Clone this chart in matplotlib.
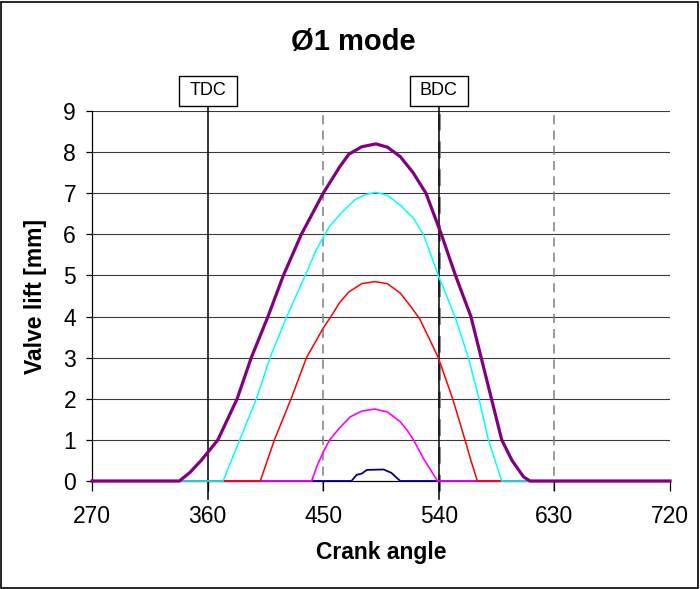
import matplotlib
matplotlib.use("Agg")
import matplotlib.pyplot as plt
from matplotlib.patches import Rectangle

plt.rcParams['font.family'] = ['Liberation Sans', 'DejaVu Sans']

# valve lift curves (crank angle in deg, lift in mm)
purple_x = [270, 338, 346, 355, 368, 383, 394, 407, 419, 433, 450, 463, 470, 480, 491,
            500, 510, 520, 530, 542, 553, 565, 573, 581, 589, 597, 606, 611, 720]
purple_y = [0, 0, 0.2, 0.5, 1, 2, 3, 4, 5, 6, 7, 7.65, 7.95, 8.13, 8.2,
            8.12, 7.89, 7.5, 7.0, 6.0, 5.0, 4.0, 3.0, 2.0, 1.0, 0.5, 0.1, 0, 0]

cyan_x = [270, 372, 385, 398, 408.6, 421.6, 436, 445, 455, 465, 475, 483, 491,
          500, 510, 520, 528, 539.6, 552.6, 563, 571.3, 578.6, 589, 720]
cyan_y = [0, 0, 1, 2, 3, 4, 5, 5.65, 6.2, 6.55, 6.85, 6.97, 7.02,
          6.95, 6.71, 6.4, 6.0, 5.0, 4.0, 3.0, 2.0, 1.0, 0, 0]

red_x = [270, 401, 412, 425, 437, 450, 456, 463, 470, 480, 490,
         500, 510, 518, 525, 532, 539.6, 550.8, 560.4, 565, 570, 720]
red_y = [0, 0, 1, 2, 3, 3.72, 4.0, 4.35, 4.6, 4.8, 4.85,
         4.8, 4.57, 4.25, 3.95, 3.5, 3.0, 2.0, 1.0, 0.5, 0, 0]

magenta_x = [270, 441, 445, 450, 455, 463, 471, 480, 490, 500, 510, 515, 520.3, 528, 534, 539, 720]
magenta_y = [0, 0, 0.35, 0.7, 1.0, 1.3, 1.56, 1.7, 1.75, 1.68, 1.44, 1.25, 1.0, 0.55, 0.25, 0, 0]

navy_x = [270, 472, 476, 480, 484, 497, 503, 510, 720]
navy_y = [0, 0, 0.15, 0.18, 0.27, 0.28, 0.2, 0, 0]

x_ticks = [270, 360, 450, 540, 630, 720]
y_ticks = list(range(10))
dashed_at = [450, 540, 630]
markers = {"TDC": 360, "BDC": 540}

fig = plt.figure(figsize=(7, 5.89), dpi=100)
ax = fig.add_axes([92 / 700, 1 - 481 / 589, 578 / 700, 370 / 589])

# grid / reference lines
for y in y_ticks[1:]:
    ax.axhline(y, color='#3a3a3a', lw=0.8, zorder=1)
for x in dashed_at:
    ax.plot([x, x], [-0.25, 9], color='#7f7f7f', lw=1.1 if x != 540 else 2.0,
            dashes=(6, 4), clip_on=False, zorder=1)

for name, x in markers.items():
    ax.plot([x, x], [-0.44, 9.13], color='black', lw=1.1, clip_on=False, zorder=2)
    ax.add_patch(Rectangle((x - 22.5, 9.13), 45, 0.73, fill=True, fc='white', ec='black',
                           lw=1.0, clip_on=False, zorder=3))
    ax.text(x, 9.5, name, ha='center', va='center', fontsize=13, zorder=4)

# curves, smallest drawn first so bigger ones sit on top along zero
ax.plot(navy_x, navy_y, color='#000080', lw=1.3, clip_on=False, zorder=5)
ax.plot(magenta_x, magenta_y, color='#FF00FF', lw=1.2, clip_on=False, zorder=6)
ax.plot(red_x, red_y, color='#FF0000', lw=1.1, clip_on=False, zorder=7)
ax.plot(cyan_x, cyan_y, color='#00FFFF', lw=1.1, clip_on=False, zorder=8)
ax.plot(purple_x, purple_y, color='#800080', lw=2.3, clip_on=False, zorder=9)

ax.set_xlim(270, 720)
ax.set_ylim(0, 9)
ax.set_xticks(x_ticks)
ax.set_yticks(y_ticks)
ax.tick_params(axis='x', direction='out', length=7, width=0.9, pad=10, labelsize=16.5)
ax.tick_params(axis='y', direction='out', length=4.5, width=0.9, pad=7, labelsize=16.5)
for side in ['top', 'right']:
    ax.spines[side].set_visible(False)
ax.spines['left'].set_linewidth(0.9)
ax.spines['bottom'].set_linewidth(0.9)

fig.text(353 / 700, 1 - 42 / 589, 'Ø1 mode', ha='center', va='center',
         fontsize=21, fontweight='bold')
fig.text(381 / 700, 1 - 552 / 589, 'Crank angle', ha='center', va='center',
         fontsize=16.5, fontweight='bold')
fig.text(36 / 700, 1 - 297 / 589, 'Valve lift [mm]', ha='center', va='center',
         rotation=90, fontsize=16.5, fontweight='bold')

# outer frame of the chart
fig.add_artist(Rectangle((0.002, 0.002), 0.995, 0.995, transform=fig.transFigure,
                         fill=False, ec='black', lw=1.2))

fig.savefig('out.png', dpi=100)
